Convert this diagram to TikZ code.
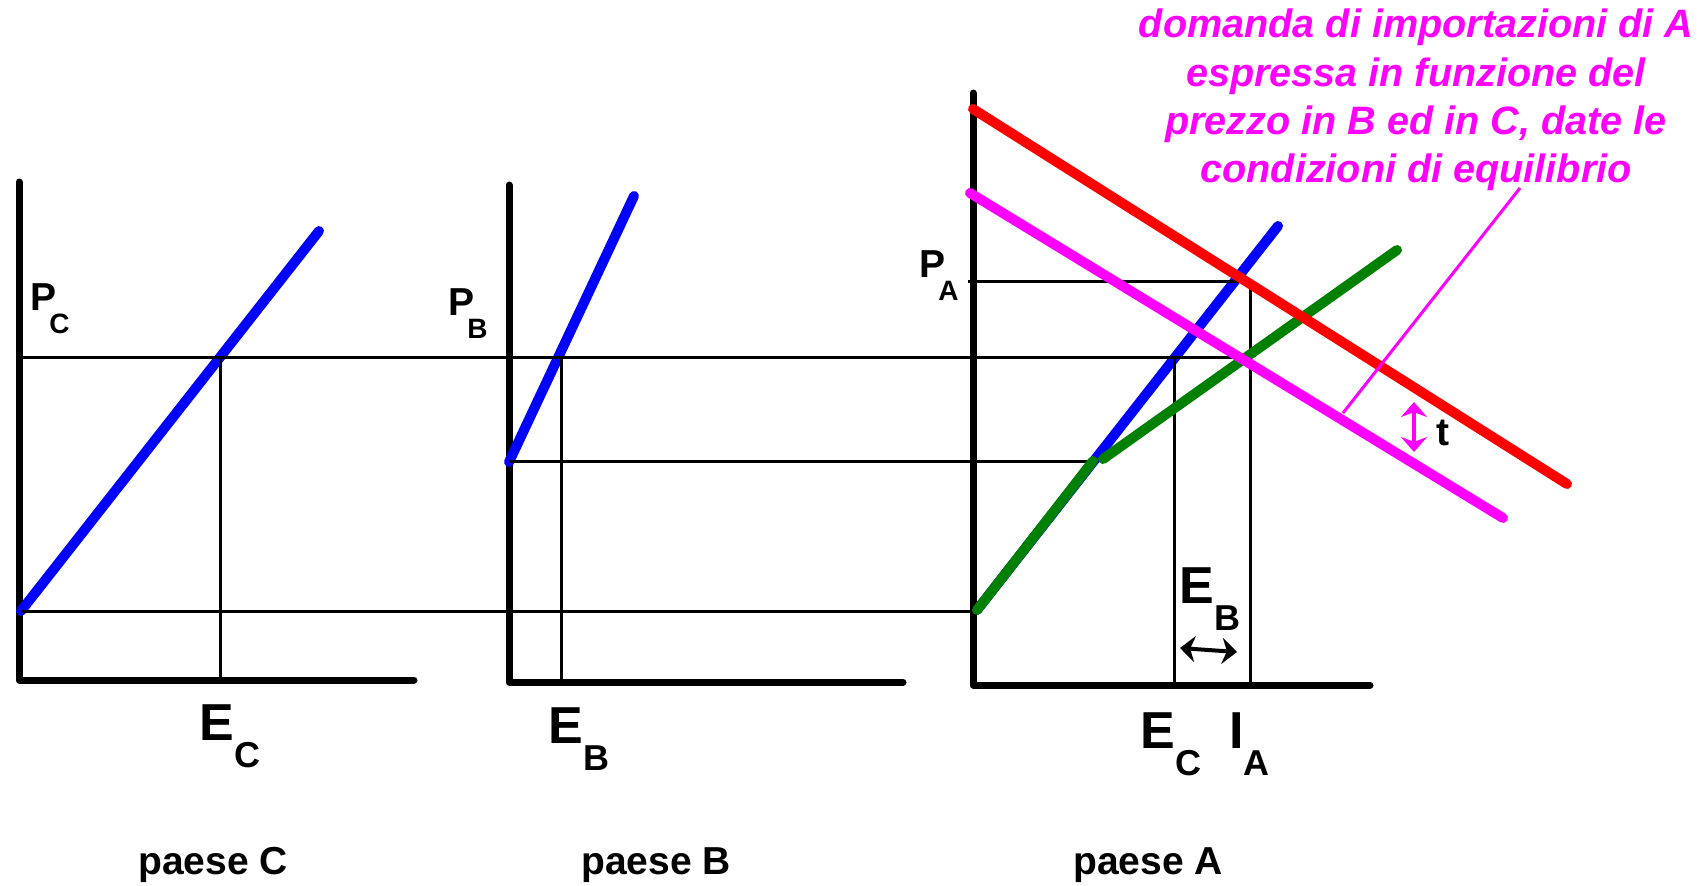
\documentclass[tikz,border=0pt]{standalone}
\usepackage{fontspec}
\setmainfont{Liberation Sans}
\usetikzlibrary{arrows.meta}
\definecolor{dkgreen}{RGB}{0,128,0}
\definecolor{mag}{RGB}{255,0,255}
\definecolor{pblue}{RGB}{0,0,255}
\definecolor{pred}{RGB}{255,0,0}
\newcommand{\twol}[5][0pt]{{\fontsize{#4}{#4}\selectfont #2\kern#1\raisebox{-0.53em}{\fontsize{#5}{#5}\selectfont #3}}}
\newcommand{\pl}[1]{{\fontsize{19.5pt}{19.5pt}\selectfont P\kern-0.18em\raisebox{-0.6em}{\fontsize{14pt}{14pt}\selectfont #1}}}
\begin{document}
\begin{tikzpicture}[x=0.5pt,y=-0.5pt,
  axisline/.style={line width=3.5pt, line cap=round, line join=round},
  curve/.style={line width=5pt, line cap=round},
  guide/.style={line width=1.5pt},
  lbl/.style={inner sep=0pt, anchor=base west, font=\bfseries},
  paeselbl/.style={inner sep=0pt, anchor=base, font=\bfseries\fontsize{19.5pt}{19.5pt}\selectfont},
  dbl/.style={line width=2pt, {Stealth[length=7.5pt,width=13pt]}-{Stealth[length=7.5pt,width=13pt]}}
]
\useasboundingbox (0,0) rectangle (1706,885);

% key points
\coordinate (Ctop) at (19,182); \coordinate (Corig) at (19,680); \coordinate (Cright) at (414,680);
\coordinate (Btop) at (509,185); \coordinate (Borig) at (509,682); \coordinate (Bright) at (903,682);
\coordinate (Atop) at (973,93);  \coordinate (Aorig) at (973,685); \coordinate (Aright) at (1370,685);

% axes
\draw[axisline] (Ctop) -- (Corig) -- (Cright);
\draw[axisline] (Btop) -- (Borig) -- (Bright);
\draw[axisline] (Atop) -- (Aorig) -- (Aright);

% supply curves (blue)
\coordinate (sc0) at (21,611);  \coordinate (sc1) at (319,231);
\coordinate (sb0) at (509,462); \coordinate (sb1) at (634,196);
\coordinate (sa0) at (977,610); \coordinate (sa1) at (1278,226);
\draw[curve, pblue] (sc0) -- (sc1);
\draw[curve, pblue] (sb0) -- (sb1);
\draw[curve, pblue] (sa0) -- (sa1);

% guide lines
\coordinate (hu0) at (19,357);  \coordinate (hu1) at (1238,357);
\coordinate (vc0) at (220,357); \coordinate (vc1) at (220,680);
\coordinate (vb0) at (561,357); \coordinate (vb1) at (561,682);
\coordinate (hm0) at (509,461); \coordinate (hm1) at (1093,461);
\coordinate (hl0) at (21,611);  \coordinate (hl1) at (975,611);
\coordinate (pa0) at (968,281); \coordinate (pa1) at (1250,281); \coordinate (pa2) at (1250,685);
\coordinate (ve0) at (1174,357); \coordinate (ve1) at (1174,685);
\draw[guide] (hu0) -- (hu1);
\draw[guide] (vc0) -- (vc1);
\draw[guide] (vb0) -- (vb1);
\draw[guide] (hm0) -- (hm1);
\draw[guide] (hl0) -- (hl1);
\draw[guide] (pa0) -- (pa1) -- (pa2);
\draw[guide] (ve0) -- (ve1);

% green aggregate supply
\coordinate (g0) at (977,610); \coordinate (g1) at (1093,461);
\coordinate (g2) at (1103,459); \coordinate (g3) at (1397,250);
\draw[curve, dkgreen] (g0) -- (g1);
\draw[curve, dkgreen] (g2) -- (g3);

% demand curves
\coordinate (m0) at (970,193);  \coordinate (m1) at (1503,518);
\coordinate (r0) at (973,109);  \coordinate (r1) at (1567,484);
\draw[curve, mag] (m0) -- (m1);
\draw[curve, pred] (r0) -- (r1);

% callout
\node[inner sep=0pt, font=\bfseries\itshape\fontsize{19.8pt}{24.2pt}\selectfont, text=mag, align=center] (title) at (1416,100)
  {domanda di importazioni di A\\espressa in funzione del\\prezzo in B ed in C, date le\\condizioni di equilibrio};
\coordinate (co0) at (1520,188);
\coordinate (co1) at (1343,413);
\draw[mag, line width=1.5pt] (co0) -- (co1);

% arrows
\coordinate (t0) at (1414,402); \coordinate (t1) at (1414,452);
\draw[dbl, mag] (t0) -- (t1);
\coordinate (e0) at (1180,648); \coordinate (e1) at (1237,652);
\draw[dbl] (e0) -- (e1);

% labels
\node[lbl] (PC) at (30,310) {\pl{C}};
\node[lbl] (PB) at (448,315) {\pl{B}};
\node[lbl] (PA) at (919,277) {\pl{A}};
\node[lbl] (ECc) at (199,740) {\twol{E}{C}{26pt}{18pt}};
\node[lbl] (EBb) at (548,743) {\twol{E}{B}{26pt}{18pt}};
\node[lbl] (ECa) at (1140,748) {\twol{E}{C}{26pt}{18pt}};
\node[lbl] (IA) at (1229,748) {\twol{I}{A}{26pt}{18pt}};
\node[lbl] (EBa) at (1179,603) {\twol{E}{B}{26pt}{18pt}};
\node[lbl, font=\bfseries\fontsize{19.5pt}{19.5pt}\selectfont] (t) at (1436,445) {t};
\node[paeselbl] (pc) at (213,874) {paese C};
\node[paeselbl] (pb) at (656,874) {paese B};
\node[paeselbl] (pa) at (1148,874) {paese A};
\end{tikzpicture}
\end{document}
